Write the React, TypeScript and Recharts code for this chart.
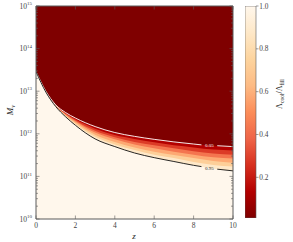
import { Area, Bar, BarChart, ComposedChart, Line, ReferenceDot, XAxis, YAxis } from "recharts";

const FONT = "'Liberation Serif', 'DejaVu Serif', serif";
const SPINE = "#5a5a5a";
const TEXT = "#444";

// OrRd_r colormap, 0 -> 1
const CMAP = ["#7f0000", "#b30000", "#d7301f", "#ef6548", "#fc8d59", "#fdbb84", "#fdd49e", "#fee8c8", "#fff7ec"];

function cmap(v: number) {
  const t = Math.max(0, Math.min(1, v)) * (CMAP.length - 1);
  const i = Math.min(CMAP.length - 2, Math.floor(t));
  const f = t - i;
  const a = CMAP[i];
  const b = CMAP[i + 1];
  const ch = (s: string, k: number) => parseInt(s.slice(1 + 2 * k, 3 + 2 * k), 16);
  const out = [0, 1, 2].map((k) => Math.round(ch(a, k) + (ch(b, k) - ch(a, k)) * f).toString(16).padStart(2, "0"));
  return "#" + out.join("");
}

// redshift samples
const Z = [0, 0.5, 1, 1.5, 2, 3, 4, 5, 6, 7, 8, 9, 10];

// log10(Mv) where Λcool/Λfill reaches each level
const LOG_M_005 = [13.46, 13.0, 12.68, 12.5, 12.37, 12.17, 12.03, 11.94, 11.87, 11.81, 11.76, 11.72, 11.7];
const LOG_M_020 = [13.46, 13.0, 12.67, 12.48, 12.34, 12.12, 11.97, 11.88, 11.8, 11.73, 11.68, 11.63, 11.61];
const LOG_M_035 = [13.46, 12.99, 12.67, 12.47, 12.31, 12.07, 11.92, 11.81, 11.73, 11.66, 11.59, 11.54, 11.51];
const LOG_M_050 = [13.46, 12.99, 12.66, 12.45, 12.29, 12.03, 11.87, 11.75, 11.66, 11.58, 11.51, 11.45, 11.42];
const LOG_M_065 = [13.46, 12.99, 12.65, 12.43, 12.26, 11.98, 11.81, 11.68, 11.58, 11.5, 11.43, 11.36, 11.32];
const LOG_M_080 = [13.46, 12.98, 12.65, 12.42, 12.23, 11.93, 11.75, 11.62, 11.51, 11.43, 11.34, 11.27, 11.23];
const LOG_M_095 = [13.46, 12.98, 12.64, 12.4, 12.2, 11.88, 11.7, 11.55, 11.44, 11.35, 11.26, 11.18, 11.13];

// contour lines, with a gap where the inline label sits
const CONTOUR_Z = [0, 0.5, 1, 1.5, 2, 3, 4, 5, 6, 7, 8, 8.4, 8.8, 9.2, 10];
const CONTOUR_005 = [13.46, 13.0, 12.68, 12.5, 12.37, 12.17, 12.03, 11.94, 11.87, 11.81, 11.76, 11.74, null, 11.72, 11.7];
const CONTOUR_095 = [13.46, 12.98, 12.64, 12.4, 12.2, 11.88, 11.7, 11.55, 11.44, 11.35, 11.26, 11.23, null, 11.17, 11.13];
const CONTOUR_LABELS = [
  { text: "0.05", z: 8.8, logM: 11.73, color: "#fff" },
  { text: "0.95", z: 8.8, logM: 11.2, color: "#222" },
];

const M_MIN = 1e10;
const M_MAX = 1e15;
const X_TICKS = [0, 2, 4, 6, 8, 10];
const Y_TICKS = [10, 11, 12, 13, 14, 15];
const CB_TICKS = [0.2, 0.4, 0.6, 0.8, 1.0];
const CB_RANGE = [0.01, 1];

const BANDS = [
  { key: "full", levels: null, value: 0 },
  { key: "l005", levels: LOG_M_005, value: 0.125 },
  { key: "l020", levels: LOG_M_020, value: 0.275 },
  { key: "l035", levels: LOG_M_035, value: 0.425 },
  { key: "l050", levels: LOG_M_050, value: 0.575 },
  { key: "l065", levels: LOG_M_065, value: 0.725 },
  { key: "l080", levels: LOG_M_080, value: 0.875 },
  { key: "l095", levels: LOG_M_095, value: 1 },
];

const bandRows = Z.map((z, i) => {
  const row: Record<string, any> = { z };
  BANDS.forEach((b) => {
    row[b.key] = [M_MIN, b.levels ? Math.pow(10, b.levels[i]) : M_MAX];
  });
  return row;
});

const contour005 = CONTOUR_Z.map((z, i) => ({ z, m: CONTOUR_005[i] == null ? null : Math.pow(10, CONTOUR_005[i] as number) }));
const contour095 = CONTOUR_Z.map((z, i) => ({ z, m: CONTOUR_095[i] == null ? null : Math.pow(10, CONTOUR_095[i] as number) }));

const yTickValues: number[] = [];
for (let e = 10; e < 15; e++) for (let k = 1; k < 10; k++) yTickValues.push(k * Math.pow(10, e));
yTickValues.push(M_MAX);

const isMajor = (v: number) => Math.abs(Math.log10(v) - Math.round(Math.log10(v))) < 1e-6;

function LeftTick({ x, y, payload }: any) {
  const v = payload.value;
  const major = isMajor(v);
  const exp = Math.round(Math.log10(v));
  return (
    <g>
      <line x1={x} x2={x + (major ? 3.5 : 2)} y1={y} y2={y} stroke={SPINE} strokeWidth={0.6} />
      {major && Y_TICKS.includes(exp) && (
        <text x={x - 4} y={y + 2.6} textAnchor="end" fontSize={7.5} fill={TEXT} fontFamily={FONT}>
          10
          <tspan dy={-3.4} fontSize={5}>{exp}</tspan>
        </text>
      )}
    </g>
  );
}

function RightTick({ x, y, payload }: any) {
  const major = isMajor(payload.value);
  return <line x1={x} x2={x - (major ? 3.5 : 2)} y1={y} y2={y} stroke={SPINE} strokeWidth={0.6} />;
}

function BottomTick({ x, y, payload }: any) {
  return (
    <g>
      <line x1={x} x2={x} y1={y} y2={y - 3.5} stroke={SPINE} strokeWidth={0.6} />
      <text x={x} y={y + 8.5} textAnchor="middle" fontSize={7.5} fill={TEXT} fontFamily={FONT}>
        {payload.value}
      </text>
    </g>
  );
}

function TopTick({ x, y }: any) {
  return <line x1={x} x2={x} y1={y} y2={y + 3.5} stroke={SPINE} strokeWidth={0.6} />;
}

function HeatMap() {
  return (
    <ComposedChart width={293} height={242} data={bandRows} margin={{ top: 0, right: 0, bottom: 0, left: 0 }}>
      {BANDS.map((b) => (
        <Area
          key={b.key}
          type="monotone"
          dataKey={b.key}
          stroke="none"
          fill={cmap(b.value)}
          fillOpacity={1}
          dot={false}
          activeDot={false}
          isAnimationActive={false}
        />
      ))}
      <Line data={contour005} type="monotone" dataKey="m" stroke="#fff" strokeWidth={0.9} dot={false} activeDot={false} connectNulls={false} isAnimationActive={false} />
      <Line data={contour095} type="monotone" dataKey="m" stroke="#111" strokeWidth={0.9} dot={false} activeDot={false} connectNulls={false} isAnimationActive={false} />
      {CONTOUR_LABELS.map((l) => (
        <ReferenceDot
          key={l.text}
          x={l.z}
          y={Math.pow(10, l.logM)}
          r={0}
          shape={(p: any) => (
            <text x={p.cx} y={p.cy + 1.8} textAnchor="middle" fontSize={5} fill={l.color} fontFamily={FONT}>
              {l.text}
            </text>
          )}
        />
      ))}
      <XAxis
        dataKey="z"
        type="number"
        domain={[0, 10]}
        ticks={X_TICKS}
        allowDataOverflow
        height={23}
        tickSize={0}
        tickMargin={0}
        tick={<BottomTick />}
        axisLine={{ stroke: SPINE, strokeWidth: 1 }}
        tickLine={false}
      />
      <XAxis
        xAxisId="top"
        orientation="top"
        dataKey="z"
        type="number"
        domain={[0, 10]}
        ticks={X_TICKS}
        allowDataOverflow
        height={6}
        tickSize={0}
        tickMargin={0}
        tick={<TopTick />}
        axisLine={{ stroke: SPINE, strokeWidth: 1 }}
        tickLine={false}
      />
      <YAxis
        type="number"
        scale="log"
        domain={[M_MIN, M_MAX]}
        ticks={yTickValues}
        allowDataOverflow
        width={36}
        tickSize={0}
        tickMargin={0}
        tick={<LeftTick />}
        axisLine={{ stroke: SPINE, strokeWidth: 1 }}
        tickLine={false}
        interval={0}
      />
      <YAxis
        yAxisId="right"
        orientation="right"
        type="number"
        scale="log"
        domain={[M_MIN, M_MAX]}
        ticks={yTickValues}
        allowDataOverflow
        width={60}
        tickSize={0}
        tickMargin={0}
        tick={<RightTick />}
        axisLine={{ stroke: SPINE, strokeWidth: 1 }}
        tickLine={false}
        interval={0}
      />
      <text transform="translate(13,110) rotate(-90)" textAnchor="middle" fontSize={9} fill="#222" fontFamily={FONT} fontStyle="italic">
        M<tspan dy={2} fontSize={6.5}>v</tspan>
      </text>
      <text x={134} y={239} textAnchor="middle" fontSize={9} fill="#222" fontFamily={FONT} fontStyle="italic">
        z
      </text>
    </ComposedChart>
  );
}

function ColorBar() {
  return (
    <BarChart
      width={48}
      height={242}
      data={[{ name: "cb", range: CB_RANGE }]}
      margin={{ top: 6, right: 0, bottom: 24, left: 0 }}
      barCategoryGap={0}
    >
      <defs>
        <linearGradient id="cbGrad" x1="0" y1="1" x2="0" y2="0">
          {CMAP.map((c, i) => (
            <stop key={i} offset={i / (CMAP.length - 1)} stopColor={c} />
          ))}
        </linearGradient>
      </defs>
      <XAxis dataKey="name" type="category" hide />
      <YAxis
        orientation="right"
        type="number"
        domain={CB_RANGE}
        ticks={CB_TICKS}
        allowDataOverflow
        width={37}
        tickSize={2.5}
        tickMargin={0.8}
        tickFormatter={(v: number) => v.toFixed(1)}
        tick={{ fontSize: 7.3, fill: TEXT, fontFamily: FONT }}
        tickLine={{ stroke: SPINE, strokeWidth: 0.6 }}
        axisLine={false}
        interval={0}
      />
      <Bar dataKey="range" fill="url(#cbGrad)" stroke={SPINE} strokeWidth={0.6} isAnimationActive={false} />
      <text transform="translate(37,94) rotate(-90)" textAnchor="middle" fontSize={8} fill="#222" fontFamily={FONT}>
        Λ<tspan dy={1.8} fontSize={5.5}>cool</tspan>
        <tspan dy={-1.8}>/Λ</tspan>
        <tspan dy={1.8} fontSize={5.5}>fill</tspan>
      </text>
    </BarChart>
  );
}

export default function App() {
  return (
    <div style={{ position: "absolute", left: 0, top: 0, width: 293, height: 242, background: "#fff" }}>
      <HeatMap />
      <div style={{ position: "absolute", left: 245, top: 0 }}>
        <ColorBar />
      </div>
    </div>
  );
}
